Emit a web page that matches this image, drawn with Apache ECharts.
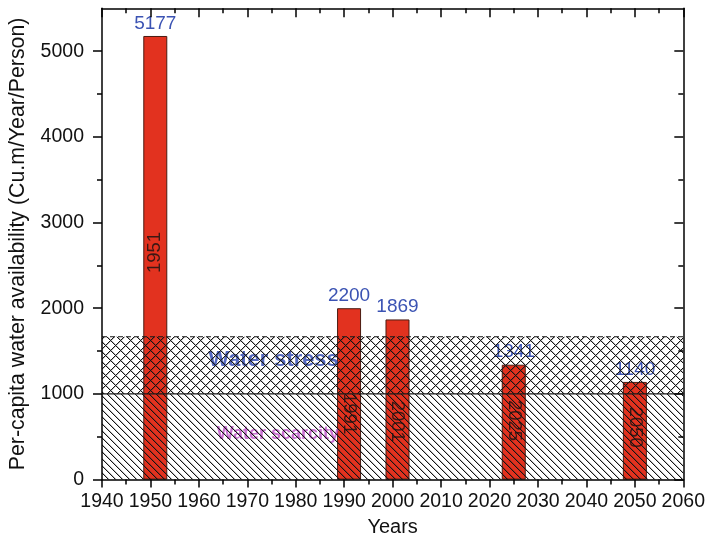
<!DOCTYPE html>
<html><head><meta charset="utf-8">
<script src="https://cdn.jsdelivr.net/npm/echarts@6/dist/echarts.min.js"></script>
<style>html,body{margin:0;padding:0;background:#fff}#c{width:708px;height:542px}</style>
</head><body><div id="c"></div>
<script>
// ---- data ----
const years = [1951, 1991, 2001, 2025, 2050];
const values = [5177, 2000, 1869, 1341, 1140];
const valueLabels = ['5177', '2200', '1869', '1341', '1140'];
const yearLabels = ['1951', '1991', '2001', '2025', '2050'];
const stressBand = [1000, 1667];
const scarcityBand = [0, 1000];
const bandNames = ['Water stress', 'Water scarcity'];
const xRange = [1940, 2060];
const yRange = [0, 5500];
const yMajorTicks = [0, 1000, 2000, 3000, 4000, 5000];
const yMinorTicks = [500, 1500, 2500, 3500, 4500];

// ---- styling helpers ----
const FONT = 'Liberation Sans, Arial, sans-serif';
function hatch(p, cross) {
  const c = document.createElement('canvas');
  c.width = p; c.height = p;
  const g = c.getContext('2d');
  const img = g.createImageData(p, p);
  for (let y = 0; y < p; y++) {
    for (let x = 0; x < p; x++) {
      const d1 = ((x - y) % p + p) % p;
      const d2 = ((x + y) % p + p) % p;
      let a = 0;
      if (d1 === 0) a = 255; else if (d1 === 1) a = Math.max(a, 70);
      if (cross) { if (d2 === 0) a = 255; else if (d2 === 1) a = Math.max(a, 70); }
      const i = (y * p + x) * 4;
      img.data[i] = 20; img.data[i + 1] = 20; img.data[i + 2] = 20; img.data[i + 3] = a;
    }
  }
  g.putImageData(img, 0, 0);
  return c;
}
const crossPat = hatch(10, true);
const diagPat = hatch(7, false);

// label placement inside bars (style, in axis units) and rotation
const yearLabelAt = [2650, 770, 680, 690, 610];
const yearRotate = [90, -90, -90, -90, -90];

const axisLine = {show: true, onZero: false, lineStyle: {color: '#000', width: 1.5}};
const tickStyle = {color: '#000', width: 1.5};

const chart = echarts.init(document.getElementById('c'), null, {renderer: 'canvas'});
chart.setOption({
  animation: false,
  textStyle: {fontFamily: FONT},
  grid: {left: 101.5, right: 24.5, top: 8.3, bottom: 62, containLabel: false},
  xAxis: [
    {type: 'value', position: 'bottom', min: xRange[0], max: xRange[1], interval: 10, z: 20,
     axisLine, axisTick: {length: 8, lineStyle: tickStyle},
     minorTick: {show: true, splitNumber: 2, length: 5, lineStyle: tickStyle},
     axisLabel: {fontSize: 19.5, color: '#111', margin: 12.5, formatter: v => String(v)},
     splitLine: {show: false}, minorSplitLine: {show: false},
     name: 'Years', nameLocation: 'middle', nameGap: 37,
     nameTextStyle: {fontSize: 20, color: '#111'}},
    {type: 'value', position: 'top', min: xRange[0], max: xRange[1], interval: 10, z: 20,
     axisLine, axisTick: {inside: true, length: 9, lineStyle: tickStyle},
     minorTick: {show: true, splitNumber: 2, length: 5, lineStyle: tickStyle},
     axisLabel: {show: false}, splitLine: {show: false}}
  ],
  yAxis: [
    {type: 'value', position: 'left', min: yRange[0], max: yRange[1], z: 20,
     axisLine, axisTick: {length: 9, lineStyle: tickStyle, customValues: yMajorTicks},
     axisLabel: {fontSize: 19.5, color: '#111', margin: 18, customValues: yMajorTicks, formatter: v => String(v)},
     splitLine: {show: false},
     name: 'Per-capita water availability (Cu.m/Year/Person)', nameLocation: 'middle', nameGap: 73,
     nameTextStyle: {fontSize: 21.3, color: '#111'}},
    {type: 'value', position: 'left', min: yRange[0], max: yRange[1], z: 20,
     axisLine: {show: false, onZero: false}, axisTick: {length: 5, lineStyle: tickStyle, customValues: yMinorTicks},
     axisLabel: {show: false}, splitLine: {show: false}},
    {type: 'value', position: 'right', min: yRange[0], max: yRange[1], z: 20,
     axisLine, axisTick: {inside: true, length: 9, lineStyle: tickStyle, customValues: yMajorTicks},
     axisLabel: {show: false}, splitLine: {show: false}},
    {type: 'value', position: 'right', min: yRange[0], max: yRange[1], z: 20,
     axisLine: {show: false, onZero: false}, axisTick: {inside: true, length: 5, lineStyle: tickStyle, customValues: yMinorTicks},
     axisLabel: {show: false}, splitLine: {show: false}}
  ],
  series: [
    {type: 'bar', xAxisIndex: 0, yAxisIndex: 0, z: 2, barWidth: 24,
     data: years.map((y, i) => [y, values[i]]),
     itemStyle: {color: '#e2321f', borderColor: '#4a1c12', borderWidth: 1},
     label: {show: true, position: 'top', distance: 3, fontSize: 19, color: '#3b53b3',
             formatter: p => valueLabels[p.dataIndex]}},
    {type: 'scatter', xAxisIndex: 0, yAxisIndex: 0, z: 3, symbolSize: 0, silent: true,
     data: years.map((y, i) => ({value: [y, yearLabelAt[i]], label: {rotate: yearRotate[i]}})),
     label: {show: true, position: 'inside', fontSize: 18.5, color: '#111',
             formatter: p => yearLabels[p.dataIndex]}},
    {type: 'scatter', xAxisIndex: 0, yAxisIndex: 0, z: 3, symbolSize: 0, silent: true,
     data: [
       {value: [1975.4, 1390], name: bandNames[0], label: {fontSize: 21.8, color: '#2a44b0'}},
       {value: [1976.3, 537], name: bandNames[1], label: {fontSize: 18, color: '#bb4cc6'}}
     ],
     label: {show: true, position: 'inside', fontWeight: 'bold', formatter: '{b}'}},
    {type: 'custom', xAxisIndex: 0, yAxisIndex: 0, z: 10, silent: true,
     data: [[xRange[0], stressBand[0], xRange[1], stressBand[1], 1],
            [xRange[0], scarcityBand[0], xRange[1], scarcityBand[1], 0]],
     encode: {x: [0, 2], y: [1, 3]},
     renderItem(params, api) {
       const p0 = api.coord([api.value(0), api.value(1)]);
       const p1 = api.coord([api.value(2), api.value(3)]);
       const cross = api.value(4) === 1;
       const children = [
         {type: 'rect', shape: {x: p0[0], y: p1[1], width: p1[0] - p0[0], height: p0[1] - p1[1]},
          style: {fill: {image: cross ? crossPat : diagPat, repeat: 'repeat'}, stroke: null}},
         {type: 'line', shape: {x1: p0[0], y1: p1[1], x2: p1[0], y2: p1[1]},
          style: {stroke: '#1a1a1a', lineWidth: 1.2, lineDash: cross ? [5, 3] : null}}
       ];
       return {type: 'group', children};
     }}
  ]
});
</script>
</body></html>
